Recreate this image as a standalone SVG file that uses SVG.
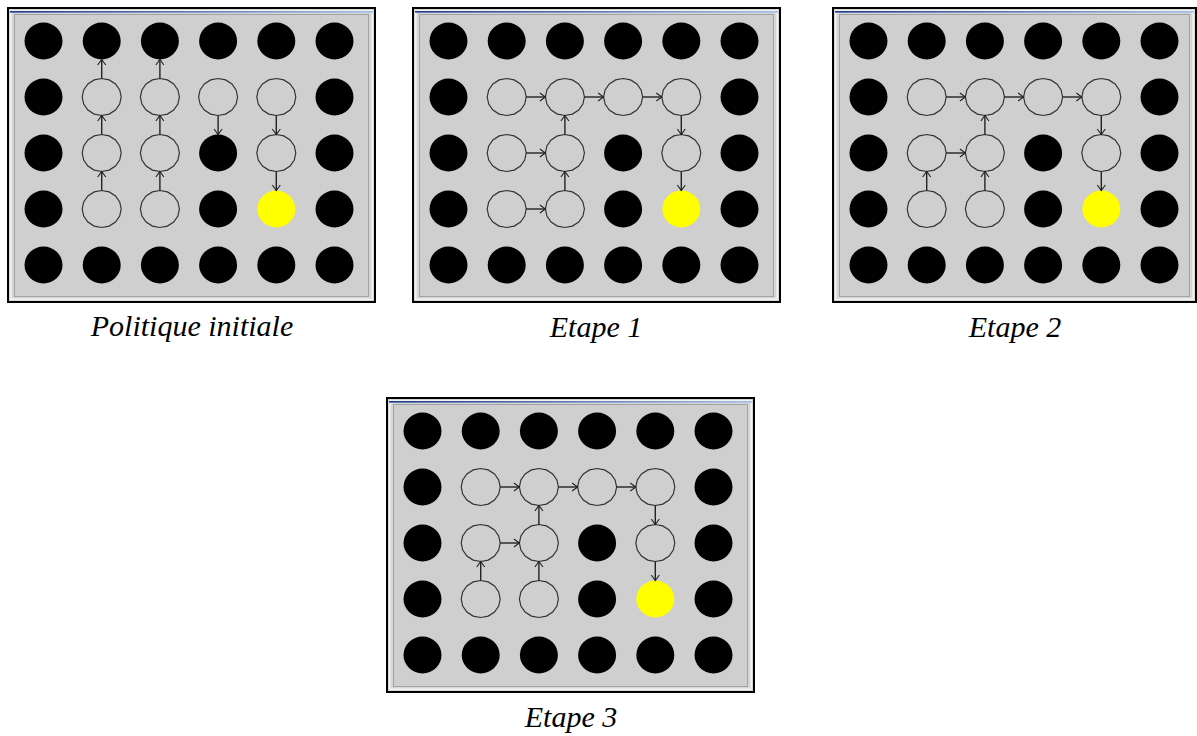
<svg xmlns="http://www.w3.org/2000/svg" xmlns:xlink="http://www.w3.org/1999/xlink" width="1197" height="736" viewBox="0 0 1197 736">
<style>
.frame{fill:#d6d6d6;stroke:#000;stroke-width:2}
.hl{fill:none;stroke:#f4f4f4;stroke-width:1.5}
.inner{fill:#cfcfcf;stroke:#a2a2a2;stroke-width:1}
.blk{fill:#000}
.yel{fill:#ffff00}
.open{fill:none;stroke:#333;stroke-width:1.2}
.arr{stroke:#222;stroke-width:1.4;fill:none;marker-end:url(#ah)}
.cap{font-family:"Liberation Serif","Times New Roman",serif;font-style:italic;font-size:30px;fill:#000;text-anchor:middle}
</style>
<defs>
<linearGradient id="tb" x1="0" y1="0" x2="1" y2="0">
<stop offset="0" stop-color="#1c3a8c"/>
<stop offset="1" stop-color="#a6bee6"/>
</linearGradient>
<marker id="ah" viewBox="-7 -5 9 10" markerWidth="9" markerHeight="10" refX="0" refY="0" orient="auto" markerUnits="userSpaceOnUse">
<path d="M-5.5,-4 L0,0 L-5.5,4" fill="none" stroke="#222" stroke-width="1.1"/>
</marker>
<path id="oc" d="M19.5,0 L18,7.1 L13.8,13.1 L7.5,17.1 L0,18.5 L-7.5,17.1 L-13.8,13.1 L-18,7.1 L-19.5,0 L-18,-7.1 L-13.8,-13.1 L-7.5,-17.1 L0,-18.5 L7.5,-17.1 L13.8,-13.1 L18,-7.1 Z"/>
<ellipse id="bc" cx="0" cy="0" rx="19" ry="18.5"/>
<g id="frame367">
<rect class="frame" x="0" y="0" width="367" height="294"/>
<rect class="hl" x="2.8" y="2.8" width="361.4" height="288.4"/>
<rect class="inner" x="6.5" y="6.5" width="354" height="282"/>
<rect x="2" y="3" width="363" height="1.6" fill="url(#tb)"/>
</g>
<g id="frame363">
<rect class="frame" x="0" y="0" width="363" height="294"/>
<rect class="hl" x="2.8" y="2.8" width="357.4" height="288.4"/>
<rect class="inner" x="6.5" y="6.5" width="350" height="282"/>
<rect x="2" y="3" width="359" height="1.6" fill="url(#tb)"/>
</g>
</defs>
<rect x="0" y="0" width="1197" height="736" fill="#fff"/>

<!-- Panel 1: Politique initiale -->
<g id="panel1" transform="translate(8,8)">
<use xlink:href="#frame367" href="#frame367"/>
<g id="p1-nodes">
<g id="p1-r0c0"><use href="#bc" class="blk" x="35.5" y="33"/></g>
<g id="p1-r0c1"><use href="#bc" class="blk" x="93.7" y="33"/></g>
<g id="p1-r0c2"><use href="#bc" class="blk" x="151.9" y="33"/></g>
<g id="p1-r0c3"><use href="#bc" class="blk" x="210.1" y="33"/></g>
<g id="p1-r0c4"><use href="#bc" class="blk" x="268.3" y="33"/></g>
<g id="p1-r0c5"><use href="#bc" class="blk" x="326.5" y="33"/></g>
<g id="p1-r1c0"><use href="#bc" class="blk" x="35.5" y="89"/></g>
<g id="p1-r1c1"><use href="#oc" class="open" x="93.7" y="89"/></g>
<g id="p1-r1c2"><use href="#oc" class="open" x="151.9" y="89"/></g>
<g id="p1-r1c3"><use href="#oc" class="open" x="210.1" y="89"/></g>
<g id="p1-r1c4"><use href="#oc" class="open" x="268.3" y="89"/></g>
<g id="p1-r1c5"><use href="#bc" class="blk" x="326.5" y="89"/></g>
<g id="p1-r2c0"><use href="#bc" class="blk" x="35.5" y="145"/></g>
<g id="p1-r2c1"><use href="#oc" class="open" x="93.7" y="145"/></g>
<g id="p1-r2c2"><use href="#oc" class="open" x="151.9" y="145"/></g>
<g id="p1-r2c3"><use href="#bc" class="blk" x="210.1" y="145"/></g>
<g id="p1-r2c4"><use href="#oc" class="open" x="268.3" y="145"/></g>
<g id="p1-r2c5"><use href="#bc" class="blk" x="326.5" y="145"/></g>
<g id="p1-r3c0"><use href="#bc" class="blk" x="35.5" y="201"/></g>
<g id="p1-r3c1"><use href="#oc" class="open" x="93.7" y="201"/></g>
<g id="p1-r3c2"><use href="#oc" class="open" x="151.9" y="201"/></g>
<g id="p1-r3c3"><use href="#bc" class="blk" x="210.1" y="201"/></g>
<g id="p1-r3c4"><use href="#bc" class="yel" x="268.3" y="201"/></g>
<g id="p1-r3c5"><use href="#bc" class="blk" x="326.5" y="201"/></g>
<g id="p1-r4c0"><use href="#bc" class="blk" x="35.5" y="257"/></g>
<g id="p1-r4c1"><use href="#bc" class="blk" x="93.7" y="257"/></g>
<g id="p1-r4c2"><use href="#bc" class="blk" x="151.9" y="257"/></g>
<g id="p1-r4c3"><use href="#bc" class="blk" x="210.1" y="257"/></g>
<g id="p1-r4c4"><use href="#bc" class="blk" x="268.3" y="257"/></g>
<g id="p1-r4c5"><use href="#bc" class="blk" x="326.5" y="257"/></g>
</g>
<g id="p1-connectors">
<line class="arr" x1="93.7" y1="182.5" x2="93.7" y2="163.5"/>
<line class="arr" x1="93.7" y1="126.5" x2="93.7" y2="107.5"/>
<line class="arr" x1="93.7" y1="70.5" x2="93.7" y2="51.5"/>
<line class="arr" x1="151.9" y1="182.5" x2="151.9" y2="163.5"/>
<line class="arr" x1="151.9" y1="126.5" x2="151.9" y2="107.5"/>
<line class="arr" x1="151.9" y1="70.5" x2="151.9" y2="51.5"/>
<line class="arr" x1="210.1" y1="107.5" x2="210.1" y2="126.5"/>
<line class="arr" x1="268.3" y1="107.5" x2="268.3" y2="126.5"/>
<line class="arr" x1="268.3" y1="163.5" x2="268.3" y2="182.5"/>
</g>
</g>
<text id="cap1" class="cap" x="192" y="336">Politique initiale</text>

<!-- Panel 2: Etape 1 -->
<g id="panel2" transform="translate(413,8)">
<use xlink:href="#frame367" href="#frame367"/>
<g id="p2-nodes">
<g id="p2-r0c0"><use href="#bc" class="blk" x="35.5" y="33"/></g>
<g id="p2-r0c1"><use href="#bc" class="blk" x="93.7" y="33"/></g>
<g id="p2-r0c2"><use href="#bc" class="blk" x="151.9" y="33"/></g>
<g id="p2-r0c3"><use href="#bc" class="blk" x="210.1" y="33"/></g>
<g id="p2-r0c4"><use href="#bc" class="blk" x="268.3" y="33"/></g>
<g id="p2-r0c5"><use href="#bc" class="blk" x="326.5" y="33"/></g>
<g id="p2-r1c0"><use href="#bc" class="blk" x="35.5" y="89"/></g>
<g id="p2-r1c1"><use href="#oc" class="open" x="93.7" y="89"/></g>
<g id="p2-r1c2"><use href="#oc" class="open" x="151.9" y="89"/></g>
<g id="p2-r1c3"><use href="#oc" class="open" x="210.1" y="89"/></g>
<g id="p2-r1c4"><use href="#oc" class="open" x="268.3" y="89"/></g>
<g id="p2-r1c5"><use href="#bc" class="blk" x="326.5" y="89"/></g>
<g id="p2-r2c0"><use href="#bc" class="blk" x="35.5" y="145"/></g>
<g id="p2-r2c1"><use href="#oc" class="open" x="93.7" y="145"/></g>
<g id="p2-r2c2"><use href="#oc" class="open" x="151.9" y="145"/></g>
<g id="p2-r2c3"><use href="#bc" class="blk" x="210.1" y="145"/></g>
<g id="p2-r2c4"><use href="#oc" class="open" x="268.3" y="145"/></g>
<g id="p2-r2c5"><use href="#bc" class="blk" x="326.5" y="145"/></g>
<g id="p2-r3c0"><use href="#bc" class="blk" x="35.5" y="201"/></g>
<g id="p2-r3c1"><use href="#oc" class="open" x="93.7" y="201"/></g>
<g id="p2-r3c2"><use href="#oc" class="open" x="151.9" y="201"/></g>
<g id="p2-r3c3"><use href="#bc" class="blk" x="210.1" y="201"/></g>
<g id="p2-r3c4"><use href="#bc" class="yel" x="268.3" y="201"/></g>
<g id="p2-r3c5"><use href="#bc" class="blk" x="326.5" y="201"/></g>
<g id="p2-r4c0"><use href="#bc" class="blk" x="35.5" y="257"/></g>
<g id="p2-r4c1"><use href="#bc" class="blk" x="93.7" y="257"/></g>
<g id="p2-r4c2"><use href="#bc" class="blk" x="151.9" y="257"/></g>
<g id="p2-r4c3"><use href="#bc" class="blk" x="210.1" y="257"/></g>
<g id="p2-r4c4"><use href="#bc" class="blk" x="268.3" y="257"/></g>
<g id="p2-r4c5"><use href="#bc" class="blk" x="326.5" y="257"/></g>
</g>
<g id="p2-connectors">
<line class="arr" x1="113.2" y1="89" x2="132.4" y2="89"/>
<line class="arr" x1="171.4" y1="89" x2="190.6" y2="89"/>
<line class="arr" x1="229.6" y1="89" x2="248.8" y2="89"/>
<line class="arr" x1="268.3" y1="107.5" x2="268.3" y2="126.5"/>
<line class="arr" x1="268.3" y1="163.5" x2="268.3" y2="182.5"/>
<line class="arr" x1="113.2" y1="145" x2="132.4" y2="145"/>
<line class="arr" x1="151.9" y1="126.5" x2="151.9" y2="107.5"/>
<line class="arr" x1="151.9" y1="182.5" x2="151.9" y2="163.5"/>
<line class="arr" x1="113.2" y1="201" x2="132.4" y2="201"/>
</g>
</g>
<text id="cap2" class="cap" x="596" y="337">Etape 1</text>

<!-- Panel 3: Etape 2 -->
<g id="panel3" transform="translate(833,8)">
<use xlink:href="#frame363" href="#frame363"/>
<g id="p3-nodes">
<g id="p3-r0c0"><use href="#bc" class="blk" x="35.5" y="33"/></g>
<g id="p3-r0c1"><use href="#bc" class="blk" x="93.7" y="33"/></g>
<g id="p3-r0c2"><use href="#bc" class="blk" x="151.9" y="33"/></g>
<g id="p3-r0c3"><use href="#bc" class="blk" x="210.1" y="33"/></g>
<g id="p3-r0c4"><use href="#bc" class="blk" x="268.3" y="33"/></g>
<g id="p3-r0c5"><use href="#bc" class="blk" x="326.5" y="33"/></g>
<g id="p3-r1c0"><use href="#bc" class="blk" x="35.5" y="89"/></g>
<g id="p3-r1c1"><use href="#oc" class="open" x="93.7" y="89"/></g>
<g id="p3-r1c2"><use href="#oc" class="open" x="151.9" y="89"/></g>
<g id="p3-r1c3"><use href="#oc" class="open" x="210.1" y="89"/></g>
<g id="p3-r1c4"><use href="#oc" class="open" x="268.3" y="89"/></g>
<g id="p3-r1c5"><use href="#bc" class="blk" x="326.5" y="89"/></g>
<g id="p3-r2c0"><use href="#bc" class="blk" x="35.5" y="145"/></g>
<g id="p3-r2c1"><use href="#oc" class="open" x="93.7" y="145"/></g>
<g id="p3-r2c2"><use href="#oc" class="open" x="151.9" y="145"/></g>
<g id="p3-r2c3"><use href="#bc" class="blk" x="210.1" y="145"/></g>
<g id="p3-r2c4"><use href="#oc" class="open" x="268.3" y="145"/></g>
<g id="p3-r2c5"><use href="#bc" class="blk" x="326.5" y="145"/></g>
<g id="p3-r3c0"><use href="#bc" class="blk" x="35.5" y="201"/></g>
<g id="p3-r3c1"><use href="#oc" class="open" x="93.7" y="201"/></g>
<g id="p3-r3c2"><use href="#oc" class="open" x="151.9" y="201"/></g>
<g id="p3-r3c3"><use href="#bc" class="blk" x="210.1" y="201"/></g>
<g id="p3-r3c4"><use href="#bc" class="yel" x="268.3" y="201"/></g>
<g id="p3-r3c5"><use href="#bc" class="blk" x="326.5" y="201"/></g>
<g id="p3-r4c0"><use href="#bc" class="blk" x="35.5" y="257"/></g>
<g id="p3-r4c1"><use href="#bc" class="blk" x="93.7" y="257"/></g>
<g id="p3-r4c2"><use href="#bc" class="blk" x="151.9" y="257"/></g>
<g id="p3-r4c3"><use href="#bc" class="blk" x="210.1" y="257"/></g>
<g id="p3-r4c4"><use href="#bc" class="blk" x="268.3" y="257"/></g>
<g id="p3-r4c5"><use href="#bc" class="blk" x="326.5" y="257"/></g>
</g>
<g id="p3-connectors">
<line class="arr" x1="113.2" y1="89" x2="132.4" y2="89"/>
<line class="arr" x1="171.4" y1="89" x2="190.6" y2="89"/>
<line class="arr" x1="229.6" y1="89" x2="248.8" y2="89"/>
<line class="arr" x1="268.3" y1="107.5" x2="268.3" y2="126.5"/>
<line class="arr" x1="268.3" y1="163.5" x2="268.3" y2="182.5"/>
<line class="arr" x1="113.2" y1="145" x2="132.4" y2="145"/>
<line class="arr" x1="151.9" y1="126.5" x2="151.9" y2="107.5"/>
<line class="arr" x1="151.9" y1="182.5" x2="151.9" y2="163.5"/>
<line class="arr" x1="93.7" y1="182.5" x2="93.7" y2="163.5"/>
</g>
</g>
<text id="cap3" class="cap" x="1015" y="337">Etape 2</text>

<!-- Panel 4: Etape 3 -->
<g id="panel4" transform="translate(387,398)">
<use xlink:href="#frame367" href="#frame367"/>
<g id="p4-nodes">
<g id="p4-r0c0"><use href="#bc" class="blk" x="35.5" y="33"/></g>
<g id="p4-r0c1"><use href="#bc" class="blk" x="93.7" y="33"/></g>
<g id="p4-r0c2"><use href="#bc" class="blk" x="151.9" y="33"/></g>
<g id="p4-r0c3"><use href="#bc" class="blk" x="210.1" y="33"/></g>
<g id="p4-r0c4"><use href="#bc" class="blk" x="268.3" y="33"/></g>
<g id="p4-r0c5"><use href="#bc" class="blk" x="326.5" y="33"/></g>
<g id="p4-r1c0"><use href="#bc" class="blk" x="35.5" y="89"/></g>
<g id="p4-r1c1"><use href="#oc" class="open" x="93.7" y="89"/></g>
<g id="p4-r1c2"><use href="#oc" class="open" x="151.9" y="89"/></g>
<g id="p4-r1c3"><use href="#oc" class="open" x="210.1" y="89"/></g>
<g id="p4-r1c4"><use href="#oc" class="open" x="268.3" y="89"/></g>
<g id="p4-r1c5"><use href="#bc" class="blk" x="326.5" y="89"/></g>
<g id="p4-r2c0"><use href="#bc" class="blk" x="35.5" y="145"/></g>
<g id="p4-r2c1"><use href="#oc" class="open" x="93.7" y="145"/></g>
<g id="p4-r2c2"><use href="#oc" class="open" x="151.9" y="145"/></g>
<g id="p4-r2c3"><use href="#bc" class="blk" x="210.1" y="145"/></g>
<g id="p4-r2c4"><use href="#oc" class="open" x="268.3" y="145"/></g>
<g id="p4-r2c5"><use href="#bc" class="blk" x="326.5" y="145"/></g>
<g id="p4-r3c0"><use href="#bc" class="blk" x="35.5" y="201"/></g>
<g id="p4-r3c1"><use href="#oc" class="open" x="93.7" y="201"/></g>
<g id="p4-r3c2"><use href="#oc" class="open" x="151.9" y="201"/></g>
<g id="p4-r3c3"><use href="#bc" class="blk" x="210.1" y="201"/></g>
<g id="p4-r3c4"><use href="#bc" class="yel" x="268.3" y="201"/></g>
<g id="p4-r3c5"><use href="#bc" class="blk" x="326.5" y="201"/></g>
<g id="p4-r4c0"><use href="#bc" class="blk" x="35.5" y="257"/></g>
<g id="p4-r4c1"><use href="#bc" class="blk" x="93.7" y="257"/></g>
<g id="p4-r4c2"><use href="#bc" class="blk" x="151.9" y="257"/></g>
<g id="p4-r4c3"><use href="#bc" class="blk" x="210.1" y="257"/></g>
<g id="p4-r4c4"><use href="#bc" class="blk" x="268.3" y="257"/></g>
<g id="p4-r4c5"><use href="#bc" class="blk" x="326.5" y="257"/></g>
</g>
<g id="p4-connectors">
<line class="arr" x1="113.2" y1="89" x2="132.4" y2="89"/>
<line class="arr" x1="171.4" y1="89" x2="190.6" y2="89"/>
<line class="arr" x1="229.6" y1="89" x2="248.8" y2="89"/>
<line class="arr" x1="268.3" y1="107.5" x2="268.3" y2="126.5"/>
<line class="arr" x1="268.3" y1="163.5" x2="268.3" y2="182.5"/>
<line class="arr" x1="113.2" y1="145" x2="132.4" y2="145"/>
<line class="arr" x1="151.9" y1="126.5" x2="151.9" y2="107.5"/>
<line class="arr" x1="151.9" y1="182.5" x2="151.9" y2="163.5"/>
<line class="arr" x1="93.7" y1="182.5" x2="93.7" y2="163.5"/>
</g>
</g>
<text id="cap4" class="cap" x="571" y="727">Etape 3</text>
</svg>
